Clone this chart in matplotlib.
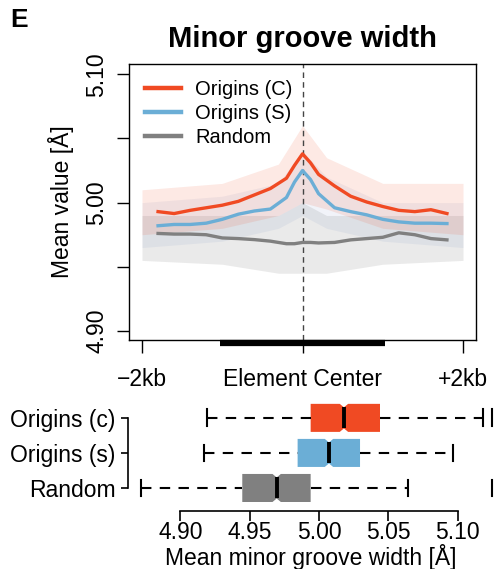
import numpy as np
import matplotlib.pyplot as plt
from matplotlib.patches import Polygon

plt.rcParams['font.family'] = ['Liberation Sans', 'DejaVu Sans']

# distance from element center (bp) and smoothed mean minor groove width
positions = [-1800, -1600, -1400, -1200, -1000, -800, -600, -400, -200, -100, 0,
             100, 200, 400, 600, 800, 1000, 1200, 1400, 1600, 1800]
origins_c = [4.993, 4.9915, 4.994, 4.996, 4.998, 5.001, 5.006, 5.011, 5.019, 5.029, 5.038,
             5.031, 5.022, 5.013, 5.005, 5.0005, 4.997, 4.994, 4.993, 4.9945, 4.9915]
origins_s = [4.982, 4.983, 4.983, 4.984, 4.987, 4.991, 4.9935, 4.995, 5.004, 5.016, 5.025,
             5.018, 5.007, 4.996, 4.993, 4.9905, 4.987, 4.985, 4.984, 4.984, 4.9837]
random_bg = [4.976, 4.9755, 4.9755, 4.975, 4.9725, 4.972, 4.9712, 4.970, 4.968, 4.968, 4.969,
             4.969, 4.9686, 4.969, 4.971, 4.972, 4.973, 4.9765, 4.975, 4.972, 4.971]

# spread of the per-position values behind each profile
cloud_pos = [-2000, -1000, -300, 0, 300, 1000, 2000]
cloud_c_lo = [4.975, 4.980, 4.990, 5.000, 4.995, 4.980, 4.975]
cloud_c_hi = [5.010, 5.015, 5.030, 5.060, 5.035, 5.015, 5.015]
cloud_s_lo = [4.965, 4.970, 4.980, 4.990, 4.980, 4.970, 4.965]
cloud_s_hi = [5.000, 5.005, 5.015, 5.040, 5.020, 5.000, 5.000]
cloud_r_lo = [4.955, 4.952, 4.945, 4.945, 4.945, 4.952, 4.955]
cloud_r_hi = [4.990, 4.990, 4.990, 5.000, 4.990, 4.990, 4.990]

element_span = [-1030, 1030]

# per-element mean minor groove width summaries
box_labels = ['Origins (c)', 'Origins (s)', 'Random']
box_q1 = [4.994, 4.9846, 4.9447]
box_med = [5.018, 5.0072, 4.9695]
box_q3 = [5.044, 5.0296, 4.994]
box_lo = [4.919, 4.917, 4.8717]
box_hi = [5.118, 5.0968, 5.0644]
box_out = [[5.1245], [], [5.1245]]
box_notch = [0.003, 0.003, 0.003]

red = '#f04a23'
blue = '#6baed6'
grey = '#808080'
colors = [red, blue, grey]

fig = plt.figure(figsize=(4.94, 5.69), dpi=100)

# --- profile panel ---
ax = fig.add_axes([129 / 494, 1 - 340 / 569, 347 / 494, 276 / 569])
ax.fill_between(cloud_pos, cloud_r_lo, cloud_r_hi, color='#555555', alpha=0.12, lw=0)
ax.fill_between(cloud_pos, cloud_s_lo, cloud_s_hi, color='#3a5fae', alpha=0.07, lw=0)
ax.fill_between(cloud_pos, cloud_c_lo, cloud_c_hi, color=red, alpha=0.12, lw=0)
ax.axvline(0, color='#444444', lw=1, ls=(0, (4, 3)))
ax.plot(positions, origins_c, color=red, lw=2.4, label='Origins (C)')
ax.plot(positions, origins_s, color=blue, lw=2.4, label='Origins (S)')
ax.plot(positions, random_bg, color=grey, lw=2.4, label='Random')

ylo, yhi = 4.893, 5.108
ax.set_xlim(-2162, 2162)
ax.set_ylim(ylo, yhi)
ax.plot(element_span, [ylo - 0.0023, ylo - 0.0023], color='black', lw=4.5,
        solid_capstyle='butt', clip_on=False)

ax.set_xticks([-2000, 0, 2000])
ax.set_xticklabels(['\u22122kb', 'Element Center', '+2kb'], fontsize=16.5)
ax.set_yticks([4.90, 4.95, 5.00, 5.05, 5.10])
ax.set_yticklabels(['4.90', '', '5.00', '', '5.10'], fontsize=16.5, rotation=90, va='center')
ax.tick_params(axis='x', length=9, width=1, pad=11)
ax.tick_params(axis='y', length=9, width=1, pad=6)
ax.set_ylabel('Mean value [\u00c5]', fontsize=16.5, labelpad=8)
ax.set_title('Minor groove width', fontsize=21, fontweight='bold', pad=12)
for s in ax.spines.values():
    s.set_linewidth(1)

leg = ax.legend(loc='upper left', frameon=False, fontsize=14.5, handlelength=1.8,
                handletextpad=0.7, labelspacing=0.25, borderaxespad=0.4,
                borderpad=0.4)
for line in leg.get_lines():
    line.set_linewidth(3.2)

fig.text(10 / 494, 1 - 20 / 569, 'E', fontsize=19, fontweight='bold', va='center')

# --- box panel ---
bx = fig.add_axes([128 / 494, 1 - 511 / 569, 366 / 494, 111 / 569])
rows = [3, 2, 1]
h, nh, cap = 0.4, 0.3, 0.24
for i, y in enumerate(rows):
    q1, med, q3 = box_q1[i], box_med[i], box_q3[i]
    lo, hi = med - box_notch[i], med + box_notch[i]
    xs = [q1, lo, med, hi, q3, q3, hi, med, lo, q1]
    ys = [y - h, y - h, y - nh, y - h, y - h, y + h, y + h, y + nh, y + h, y + h]
    bx.add_patch(Polygon(list(zip(xs, ys)), closed=True, facecolor=colors[i],
                         edgecolor='none'))
    bx.plot([med, med], [y - nh, y + nh], color='black', lw=2.8, solid_capstyle='butt')
    bx.plot([box_lo[i], q1], [y, y], color='black', lw=1.5, ls=(0, (5, 4)))
    bx.plot([q3, box_hi[i]], [y, y], color='black', lw=1.5, ls=(0, (5, 4)))
    bx.plot([box_lo[i]] * 2, [y - cap, y + cap], color='black', lw=1.5)
    bx.plot([box_hi[i]] * 2, [y - cap, y + cap], color='black', lw=1.5)
    for v in box_out[i]:
        bx.plot([v, v], [y - cap, y + cap], color='black', lw=1.5, clip_on=False)

bx.set_xlim(4.8623, 5.1262)
bx.set_ylim(0.343, 3.51)
bx.set_xticks([4.90, 4.95, 5.00, 5.05, 5.10])
bx.set_xticklabels(['4.90', '4.95', '5.00', '5.05', '5.10'], fontsize=16.5)
bx.set_yticks(rows)
bx.set_yticklabels(box_labels, fontsize=16.5)
bx.tick_params(axis='x', length=7, width=1.2, pad=0.5)
bx.tick_params(axis='y', length=5, width=1.2, pad=4)
bx.spines['top'].set_visible(False)
bx.spines['right'].set_visible(False)
bx.spines['left'].set_bounds(1, 3)
bx.spines['bottom'].set_bounds(4.90, 5.10)
bx.spines['left'].set_linewidth(1.2)
bx.spines['bottom'].set_linewidth(1.2)
bx.patch.set_alpha(0)
bx.set_xlabel('Mean minor groove width [\u00c5]', fontsize=16.5, labelpad=0)

fig.savefig('out.png', dpi=100)
